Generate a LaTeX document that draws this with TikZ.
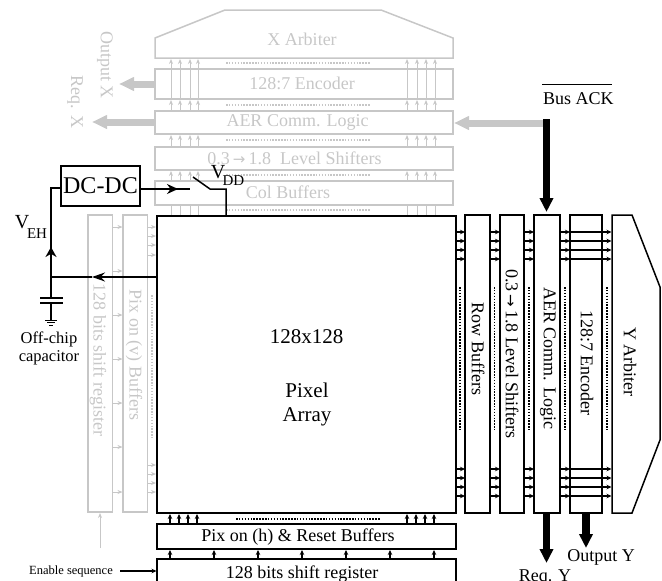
\documentclass[tikz,border=0pt]{standalone}
\usepackage{fontspec}
\setmainfont{Liberation Serif}
\usetikzlibrary{arrows.meta}
\definecolor{gry}{gray}{0.78}
\newcommand{\ra}[1]{{\fontspec{DejaVu Sans}\fontsize{#1}{#1}\selectfont→}}
\tikzset{
 gbox/.style={draw=gry,line width=1.5pt},
 bbox/.style={draw=black,line width=1.5pt},
 gtxt/.style={text=gry,font=\fontsize{18}{18}\selectfont,inner sep=0pt},
 btxt/.style={text=black,font=\fontsize{18}{18}\selectfont,inner sep=0pt},
 garrow/.style={draw=gry,line width=1pt,-{Stealth[length=5pt,width=4pt]}},
 barrow/.style={draw=black,line width=1.1pt,-{Stealth[length=5pt,width=4.5pt]}},
 gfat/.style={draw=gry,line width=7pt,-{Triangle[length=15pt,width=13pt]}},
 bfat/.style={draw=black,line width=7.3pt,-{Triangle[length=14pt,width=13pt]}},
 gdots/.style={draw=gry,line width=1.5pt,dash pattern=on 1.5pt off 1.4pt},
 bdots/.style={draw=black,line width=1.5pt,dash pattern=on 1.5pt off 1.4pt},
}
\begin{document}
\begin{tikzpicture}[x=1pt,y=-1pt]
\useasboundingbox (0,0) rectangle (662,581);
\clip (0,0) rectangle (662,581);
% grey top
\foreach \x in {171,180,190,198,407,417,426,435}{
 \draw[draw=gry,line width=1pt] (\x,99) -- (\x,69);
 \draw[garrow] (\x,69) -- (\x,59);
 \draw[garrow] (\x,111) -- (\x,100);
 \draw[garrow] (\x,147) -- (\x,135);
 \draw[garrow] (\x,181) -- (\x,171);
 \draw[draw=gry,line width=1pt] (\x,216) -- (\x,206);
}
\foreach \y in {63,105,140,175,210}{\draw[gdots] (226,\y) -- (370,\y);}
\draw[gbox] (155,58) -- (155,38) -- (225,10) -- (381,10) -- (453,38) -- (453,58) -- cycle;
\node[gtxt] (xarb) at (302,39) {X Arbiter};
\draw[gbox] (155,69) rectangle (453,99);
\node[gtxt] (xenc) at (302,83) {128:7 Encoder};
\draw[gbox] (155,111) rectangle (453,134);
\node[gtxt] (xaer) at (297.5,122) {AER Comm. Logic};
\draw[gbox] (155,147) rectangle (453,170);
\node[gtxt] (xls) at (294.5,158) {0.3\,\ra{15}\,1.8\ \ Level Shifters};
\draw[gbox] (155,181) rectangle (453,205);
\node[gtxt] (xcb) at (288,192) {Col Buffers};
% grey arrows left/right top
\draw[gfat] (155,84) -- (119,84);
\draw[gfat] (155,122) -- (92,122);
\draw[gfat] (543,123) -- (454,123);
\node[gtxt,rotate=-90] (outx) at (105,65) {Output X};
\node[gtxt,rotate=-90] (reqx) at (75,102) {Req. X};
% grey left
\draw[gbox] (88,215) rectangle (112.5,512);
\draw[gbox] (123,215) rectangle (147.5,512);
\node[gtxt,rotate=-90] (ls128) at (98,360) {128 bits shift register};
\node[gtxt,rotate=-90] (pixv) at (134,355) {Pix on (v) Buffers};
\foreach \y in {227,271,315,359,403,447,492}{\draw[garrow] (113,\y) -- (122.5,\y);}
\foreach \y in {227,236,245,255,465,474,483,492}{\draw[garrow] (148,\y) -- (156,\y);}
\draw[gdots] (152,295) -- (152,438);
\draw[garrow] (100,548) -- (100,513);
% main
\draw[bbox] (157,216) rectangle (456,513);
\node[btxt,font=\fontsize{21}{21}\selectfont] (arr1) at (306.5,337) {128x128};
\node[btxt,font=\fontsize{21}{21}\selectfont] (arr2) at (307,390) {Pixel};
\node[btxt,font=\fontsize{21}{21}\selectfont] (arr3) at (307,417) {Array};
% bottom
\draw[bbox] (157,524) rectangle (456,549);
\node[btxt] (pixh) at (298,537) {Pix on (h) \& Reset Buffers};
\draw[bbox] (157,559) rectangle (456,600);
\node[btxt] (sr) at (302,574) {128 bits shift register};
\foreach \x in {170,179,188,197,407,416,425,434}{\draw[barrow] (\x,524) -- (\x,514);}
\draw[bdots] (236,519) -- (380,519);
\foreach \x in {170,214,258,302,346,390,434}{\draw[barrow] (\x,559) -- (\x,550);}
\node[font=\fontsize{12.5}{12.5}\selectfont,inner sep=0pt] (en) at (71,571) {Enable sequence};
\draw[barrow] (120,571) -- (156.5,571);
% right
\draw[bbox] (465,215) rectangle (490,513);
\draw[bbox] (500,215) rectangle (524,513);
\draw[bbox] (534,215) rectangle (560,513);
\draw[bbox] (570,215) rectangle (602,513);
\draw[bbox] (612,215) -- (632,215) -- (660,287) -- (660,440) -- (632,513) -- (612,513) -- cycle;
\foreach \y in {232,241,250,259,469,478,487,496}{
 \draw[barrow] (456,\y) -- (465,\y);
 \draw[barrow] (490,\y) -- (500,\y);
 \draw[barrow] (524,\y) -- (534,\y);
 \draw[barrow] (560,\y) -- (570,\y);
 \draw[barrow] (570,\y) -- (611.5,\y);
}
\foreach \x in {460,494.5,529,565,607}{\draw[bdots] (\x,287) -- (\x,430);}
\node[btxt,rotate=-90] (rb) at (478,349) {Row Buffers};
\node[btxt,rotate=-90] (rls) at (512,354) {0.3\,\ra{15}\,1.8 Level Shifters};
\node[btxt,rotate=-90] (raer) at (548,358) {AER Comm. Logic};
\node[btxt,rotate=-90] (renc) at (587,363) {128:7 Encoder};
\node[btxt,rotate=-90] (rarb) at (630,362) {Y Arbiter};
% bus ack
\draw[bfat] (546.5,119) -- (546.5,212);
\draw[bfat] (546.5,513.5) -- (546.5,563);
\draw[bfat] (586,513.5) -- (586,548);
\node[btxt,anchor=west] (ack) at (543,99) {Bus ACK};
\draw[line width=1pt] (542,84) -- (612,84);
\node[btxt] (reqy) at (545,578) {Req. Y};
\node[btxt] (outy) at (601,557) {Output Y};
% DC-DC
\node[draw,line width=1.5pt,minimum width=79pt,minimum height=40pt,inner sep=0pt,font=\fontsize{24}{24}\selectfont] (dc) at (100.5,186) {DC-DC};
\coordinate (vn) at (51,188);
\coordinate (j) at (51,277);
\coordinate (cap1) at (51,298);
\coordinate (cap2) at (51,303);
\coordinate (gnd) at (51,320);
\coordinate (arrL) at (157,277);
\draw[line width=1.5pt] (dc.west |- vn) -- (vn) -- (j);
\draw[line width=1.5pt,-{Stealth[length=10pt,width=11pt]}] (j) -- (51,247);
\draw[line width=1.5pt] (j) -- (cap1);
\draw[line width=1.3pt,-{Stealth[length=13pt,width=9pt]}] (arrL) -- (92,277);
\draw[line width=1.3pt] (92,277) -- (j);
\draw[line width=1.5pt] (40,298) -- (63,298) (40,303) -- (63,303);
\draw[line width=1.5pt] (cap2) -- (gnd);
\draw[line width=1pt] (45,320) -- (57,320) (47,322.5) -- (55,322.5) (49,325) -- (53,325);
\node[font=\fontsize{16.5}{16.5}\selectfont,inner sep=0pt] (c1) at (49,339) {Off-chip};
\node[font=\fontsize{16.5}{16.5}\selectfont,inner sep=0pt] (c2) at (49,358) {capacitor};
\node[font=\fontsize{20}{20}\selectfont,inner sep=0pt] (veh) at (22,222) {V};
\node[font=\fontsize{15}{15}\selectfont,inner sep=0pt] (vehs) at (37,234) {EH};
% switch
\coordinate (sw1) at (190,189);
\coordinate (sw2) at (193,177);
\coordinate (sw3) at (210,189);
\coordinate (sw4) at (226,189);
\draw[line width=1.5pt] (dc.east |- sw1) -- (sw1);
\draw[line width=1.5pt,-{Stealth[length=11pt,width=10pt]}] (dc.east |- sw1) -- (178,189);
\draw[line width=1.5pt] (sw2) -- (sw3) -- (sw4) -- (226,216);
\node[font=\fontsize{20}{20}\selectfont,inner sep=0pt] (vdd) at (218,172) {V};
\node[font=\fontsize{15}{15}\selectfont,inner sep=0pt] (vdds) at (233.5,181) {DD};
\end{tikzpicture}
\end{document}
